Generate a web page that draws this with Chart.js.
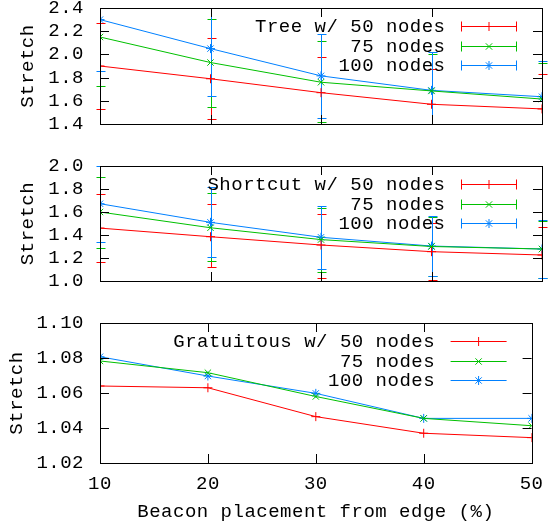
<!DOCTYPE html>
<html>
<head>
<meta charset="utf-8">
<script src="https://cdn.jsdelivr.net/npm/chart.js@4.4.1/dist/chart.umd.min.js"></script>
<style>
  html, body { margin: 0; padding: 0; background: #fff; }
  body { width: 553px; height: 527px; position: relative; overflow: hidden; }
  .box { position: absolute; left: 0; width: 553px; }
</style>
</head>
<body>
<div class="box" style="top:-22px;height:176px"><canvas id="tree"></canvas></div>
<div class="box" style="top:136px;height:175px"><canvas id="shortcut"></canvas></div>
<div class="box" style="top:293px;height:234px"><canvas id="gratuitous"></canvas></div>
<script>
// x: beacon placement from edge (%)
const placement = [10, 20, 30, 40, 50];

// Tree
const treeTicks = [1.4, 1.6, 1.8, 2.0, 2.2, 2.4];
const treeLabels = ['Tree w/ 50 nodes', '75 nodes', '100 nodes'];
const tree50 = [1.90, 1.79, 1.67, 1.57, 1.53];
const tree75 = [2.15, 1.93, 1.76, 1.685, 1.615];
const tree100 = [2.30, 2.05, 1.815, 1.69, 1.635];
const tree50Low = [1.53, 1.44, 1.36, 1.27, 1.23];
const tree50High = [2.27, 2.14, 1.98, 1.87, 1.83];
const tree75Low = [1.73, 1.55, 1.415, 1.37, 1.30];
const tree75High = [2.57, 2.305, 2.115, 2.00, 1.93];
const tree100Low = [1.86, 1.645, 1.455, 1.35, 1.32];
const tree100High = [2.74, 2.45, 2.175, 2.02, 1.945];

// Shortcut
const shortcutTicks = [1.0, 1.2, 1.4, 1.6, 1.8, 2.0];
const shortcutLabels = ['Shortcut w/ 50 nodes', '75 nodes', '100 nodes'];
const shortcut50 = [1.46, 1.385, 1.313, 1.255, 1.226];
const shortcut75 = [1.60, 1.463, 1.36, 1.30, 1.278];
const shortcut100 = [1.672, 1.51, 1.38, 1.304, 1.278];
const shortcut50Low = [1.168, 1.119, 1.029, 1.008, 0.985];
const shortcut50High = [1.754, 1.667, 1.58, 1.502, 1.467];
const shortcut75Low = [1.284, 1.177, 1.081, 1.045, 1.023];
const shortcut75High = [1.907, 1.763, 1.632, 1.554, 1.524];
const shortcut100Low = [1.342, 1.211, 1.104, 1.043, 1.022];
const shortcut100High = [2.0, 1.82, 1.655, 1.565, 1.53];

// Gratuitous (no error bars)
const gratuitousTicks = [1.02, 1.04, 1.06, 1.08, 1.10];
const gratuitousLabels = ['Gratuitous w/ 50 nodes', '75 nodes', '100 nodes'];
const gratuitous50 = [1.064, 1.063, 1.0465, 1.037, 1.0345];
const gratuitous75 = [1.0783, 1.0716, 1.058, 1.0455, 1.0413];
const gratuitous100 = [1.0807, 1.0697, 1.0598, 1.0455, 1.0455];

const colors = ['rgb(255,0,0)', 'rgb(0,192,0)', 'rgb(0,128,255)'];
const marks = ['cross', 'crossRot', 'star'];
const FONT = { family: "'Liberation Mono', 'DejaVu Sans Mono', monospace", size: 19 };
const SPACING = '0.5px';

// error bars, clipped to the plot vertically only
const errorBars = {
  id: 'errorBars',
  beforeDatasetsDraw(chart) {
    const { ctx, chartArea: a, scales: { x, y } } = chart;
    ctx.save();
    ctx.beginPath();
    ctx.rect(0, a.top, chart.width, a.bottom - a.top);
    ctx.clip();
    ctx.lineWidth = 1;
    chart.data.datasets.forEach(ds => {
      if (!ds.low) return;
      ctx.strokeStyle = ds.borderColor;
      placement.forEach((p, i) => {
        const px = Math.round(x.getPixelForValue(p)) + 0.5;
        const lo = Math.round(y.getPixelForValue(ds.low[i])) + 0.5;
        const hi = Math.round(y.getPixelForValue(ds.high[i])) + 0.5;
        ctx.beginPath();
        ctx.moveTo(px, lo); ctx.lineTo(px, hi);
        ctx.moveTo(px - 4, lo); ctx.lineTo(px + 5, lo);
        ctx.moveTo(px - 4, hi); ctx.lineTo(px + 5, hi);
        ctx.stroke();
      });
    });
    ctx.restore();
  }
};

// gnuplot style border, inward ticks and key
const frame = {
  id: 'frame',
  beforeDraw(chart) {
    chart.ctx.letterSpacing = SPACING;
  },
  afterDraw(chart, args, opts) {
    const { ctx, chartArea: a, scales: { x, y } } = chart;
    ctx.save();
    ctx.strokeStyle = '#000';
    ctx.lineWidth = 1;
    ctx.beginPath();
    opts.ticks.forEach(v => {
      const py = Math.round(y.getPixelForValue(v)) + 0.5;
      ctx.moveTo(a.left, py); ctx.lineTo(a.left + 9, py);
      ctx.moveTo(a.right, py); ctx.lineTo(a.right - 9, py);
    });
    placement.forEach(p => {
      const px = Math.round(x.getPixelForValue(p)) + 0.5;
      ctx.moveTo(px, a.bottom); ctx.lineTo(px, a.bottom - 9);
      ctx.moveTo(px, a.top); ctx.lineTo(px, a.top + 9);
    });
    ctx.stroke();
    ctx.strokeRect(Math.round(a.left) + 0.5, Math.round(a.top) + 0.5,
      Math.round(a.right - a.left), Math.round(a.bottom - a.top));

    ctx.font = `${FONT.size}px ${FONT.family}`;
    ctx.letterSpacing = SPACING;
    ctx.textAlign = 'right';
    ctx.textBaseline = 'middle';
    opts.labels.forEach((lab, i) => {
      const ly = Math.round(a.top + 18 + i * 19.5) + 0.5;
      const ds = chart.data.datasets[i];
      ctx.fillStyle = '#000';
      ctx.fillText(lab, a.right - 96.5, ly);
      const x0 = a.right - 81, x1 = a.right - 25;
      ctx.strokeStyle = ds.borderColor;
      ctx.beginPath();
      ctx.moveTo(x0, ly); ctx.lineTo(x1, ly);
      if (opts.caps) {
        ctx.moveTo(x0 + 0.5, ly - 5); ctx.lineTo(x0 + 0.5, ly + 5);
        ctx.moveTo(x1 - 0.5, ly - 5); ctx.lineTo(x1 - 0.5, ly + 5);
      }
      ctx.stroke();
      ctx.fillStyle = ds.borderColor;
      Chart.helpers.drawPoint(ctx, { pointStyle: ds.pointStyle, radius: 4.5, borderWidth: 1, rotation: 0 }, x0 + 28, ly);
    });
    ctx.restore();
  }
};

function series(values, i, low, high) {
  return {
    data: placement.map((p, k) => ({ x: p, y: values[k] })),
    borderColor: colors[i],
    backgroundColor: colors[i],
    borderWidth: 1,
    pointStyle: marks[i],
    pointRadius: 4.5,
    pointBorderWidth: 1,
    tension: 0,
    low: low,
    high: high
  };
}

function makeChart(id, datasets, ticks, labels, cfg) {
  const digits = cfg.digits;
  return new Chart(document.getElementById(id), {
    type: 'line',
    data: { datasets: datasets },
    plugins: [errorBars, frame],
    options: {
      responsive: true,
      maintainAspectRatio: false,
      animation: false,
      layout: { padding: { top: 30, right: 11, bottom: cfg.padBottom, left: 0 } },
      plugins: {
        legend: { display: false },
        tooltip: { enabled: false },
        frame: { ticks: ticks, labels: labels, caps: cfg.caps }
      },
      scales: {
        x: {
          type: 'linear',
          min: placement[0],
          max: placement[placement.length - 1],
          grid: { display: false, drawTicks: false },
          border: { display: false },
          afterBuildTicks: s => { s.ticks = placement.map(v => ({ value: v })); },
          afterFit: s => { s.height = cfg.xHeight; },
          ticks: {
            display: cfg.xLabels,
            autoSkip: false,
            padding: 10,
            color: '#000',
            font: FONT,
            maxRotation: 0
          },
          title: {
            display: cfg.xLabels,
            text: 'Beacon placement from edge (%)',
            color: '#000',
            font: FONT,
            padding: { top: 0, bottom: 4 }
          }
        },
        y: {
          min: ticks[0],
          max: ticks[ticks.length - 1],
          grid: { display: false, drawTicks: false },
          border: { display: false },
          afterBuildTicks: s => { s.ticks = ticks.map(v => ({ value: v })); },
          afterFit: s => { s.width = 100; },
          ticks: {
            autoSkip: false,
            padding: 16,
            color: '#000',
            font: FONT,
            callback: v => v.toFixed(digits)
          },
          title: {
            display: true,
            text: 'Stretch',
            color: '#000',
            font: FONT,
            padding: { top: cfg.titlePad, bottom: 0 }
          }
        }
      }
    }
  });
}

makeChart('tree', [
  series(tree50, 0, tree50Low, tree50High),
  series(tree75, 1, tree75Low, tree75High),
  series(tree100, 2, tree100Low, tree100High)
], treeTicks, treeLabels, { digits: 1, caps: true, xLabels: false, xHeight: 0, padBottom: 30, titlePad: 17 });

makeChart('shortcut', [
  series(shortcut50, 0, shortcut50Low, shortcut50High),
  series(shortcut75, 1, shortcut75Low, shortcut75High),
  series(shortcut100, 2, shortcut100Low, shortcut100High)
], shortcutTicks, shortcutLabels, { digits: 1, caps: true, xLabels: false, xHeight: 0, padBottom: 30, titlePad: 17 });

makeChart('gratuitous', [
  series(gratuitous50, 0),
  series(gratuitous75, 1),
  series(gratuitous100, 2)
], gratuitousTicks, gratuitousLabels, { digits: 2, caps: false, xLabels: true, xHeight: 64, padBottom: 0, titlePad: 6 });
</script>
</body>
</html>
